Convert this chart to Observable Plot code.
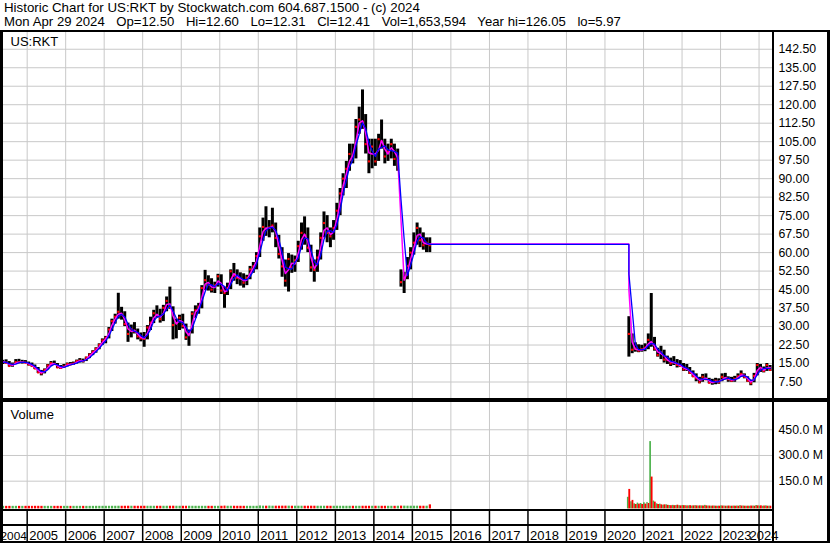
<!DOCTYPE html>
<html><head><meta charset="utf-8">
<script src="https://cdn.jsdelivr.net/npm/d3@7"></script>
<script src="https://cdn.jsdelivr.net/npm/@observablehq/plot@0.6"></script>
<style>
html,body{margin:0;padding:0;background:#fff;}
#wrap{position:relative;width:830px;height:543px;overflow:hidden;background:#fff;font-family:"Liberation Sans",Arial,sans-serif;color:#000;}
.hdr{position:absolute;left:4px;font-size:13.3px;white-space:pre;line-height:14px;}
.abs{position:absolute;}
.blk{position:absolute;background:#000;}
</style></head><body>
<div id="wrap">
  <div class="hdr" style="top:1px">Historic Chart for US:RKT by Stockwatch.com 604.687.1500 - (c) 2024</div>
  <div class="hdr" style="top:15px;font-size:13.15px;word-spacing:0.2px">Mon Apr 29 2024   Op=12.50   Hi=12.60   Lo=12.31   Cl=12.41   Vol=1,653,594   Year hi=126.05   lo=5.97</div>
  <div id="price" class="abs" style="left:0;top:31px"></div>
  <div id="volume" class="abs" style="left:0;top:402px"></div>
  <div class="abs" style="left:0;top:30px;width:830px;height:513px;box-sizing:border-box;border:2px solid #000;border-left-width:3px;border-right-width:3px;"></div>
  <div class="blk" style="left:772px;top:30px;width:2px;height:513px"></div>
  <div class="blk" style="left:0;top:398px;width:830px;height:4px"></div>
  <div class="blk" style="left:0;top:509px;width:774px;height:2px"></div>
  <div class="blk" style="left:0;top:524px;width:774px;height:2px"></div>
  <div id="dates" class="abs" style="left:0;top:510px"></div>
</div>
<script>
// ---------- DATA ----------
// Era 1: monthly bars, May 2004 .. Jun 2015 (US:RKT = RockTenn)
const era1Start = [2004, 4];
const era1High = [
  16.3,16.5,15.8,15.2,16.6,16.7,16.3,16.2,
  15.6,15.2,14.4,13.4,12.2,12.8,14.6,15.8,16.0,15.0,14.2,14.6,
  15.2,15.4,15.6,16.4,17.0,16.8,17.6,19.0,20.2,21.4,23.0,25.0,
  26.0,29.6,33.0,35.0,43.5,37.8,36.0,31.4,30.6,31.6,29.0,27.4,
  27.6,30.4,33.8,36.6,38.4,37.0,38.6,42.0,46.0,38.0,33.0,34.6,
  35.0,31.0,28.6,36.0,38.4,39.4,46.6,52.8,50.6,49.4,48.0,51.2,
  51.0,46.0,47.6,53.0,55.6,53.0,51.8,51.4,50.8,54.4,56.0,60.0,
  70.0,74.0,78.6,73.0,78.0,72.0,67.0,62.0,57.0,59.6,59.0,58.6,
  64.6,72.0,74.5,70.0,63.0,57.0,61.0,68.0,76.5,75.0,70.0,73.0,
  80.0,86.0,92.0,97.0,104.0,104.0,114.0,119.0,126.0,116.0,106.0,106.0,
  106.0,108.0,113.8,106.0,104.0,106.0,104.0,102.0,53.0,52.0,58.0,62.0,
  68.0,72.0,70.0,68.0,66.0,66.0
];
const era1Low = [
  14.6,14.8,13.6,13.5,14.8,15.0,14.8,15.0,
  14.0,13.6,12.6,11.0,10.0,10.8,12.4,13.8,14.2,13.0,12.6,13.0,
  13.6,14.2,14.2,14.8,15.2,15.2,15.8,17.0,18.2,19.2,20.6,22.4,
  23.0,25.0,28.0,31.0,33.0,32.6,30.0,23.6,25.4,27.0,24.6,23.8,
  21.6,24.6,28.4,31.2,33.4,31.4,32.0,36.0,37.0,24.6,25.0,28.4,
  29.0,24.4,22.0,27.0,33.4,35.0,37.2,44.6,44.4,43.6,43.4,46.0,
  43.0,37.4,42.6,45.0,48.4,47.0,46.4,45.6,46.6,49.0,51.6,53.0,
  58.0,64.6,66.6,66.0,68.0,62.0,57.4,50.0,46.0,44.0,51.6,52.0,
  56.0,61.0,63.0,60.0,52.0,48.0,52.0,57.0,66.0,64.0,62.0,65.0,
  69.0,75.0,83.0,86.0,93.0,96.0,98.0,108.0,110.0,100.0,92.0,94.0,
  95.0,97.0,102.0,96.0,97.0,98.0,95.0,93.0,46.0,43.4,49.0,53.0,
  59.0,63.0,62.0,61.0,60.0,60.0
];
const era1Close = [
  15.6,15.3,14.0,14.6,15.6,15.5,15.6,15.3,
  14.6,14.0,13.0,11.4,11.0,12.4,14.2,15.2,14.8,13.4,13.2,13.8,
  14.8,14.6,15.0,16.0,16.2,16.0,17.4,18.6,19.8,21.0,22.6,24.4,
  25.4,28.8,32.2,34.0,36.0,34.8,31.0,27.0,29.0,28.0,26.0,25.2,
  25.0,29.6,31.6,35.4,34.6,33.0,37.6,40.4,38.0,30.6,31.4,33.6,
  30.2,25.6,27.0,35.2,36.6,38.0,45.6,48.8,47.0,45.0,46.6,50.4,
  44.6,43.6,45.6,52.4,50.6,49.8,49.4,47.8,49.8,53.2,54.4,58.6,
  66.6,70.4,69.6,70.2,71.0,66.0,59.4,54.4,48.6,57.4,54.0,56.8,
  62.6,68.0,67.0,62.0,54.0,53.0,58.0,66.0,72.0,68.0,66.6,70.0,
  77.0,84.0,90.0,94.0,100.0,99.0,111.0,114.0,113.0,104.0,97.0,103.0,
  97.0,106.0,105.0,99.0,101.0,104.0,98.0,99.0,48.0,49.6,54.6,60.0,
  64.0,70.0,65.0,63.0,64.0,63.0
];
// volume, millions of shares
const era1Vol = [
  0.4,0.3,0.3,0.3,0.4,0.3,0.3,0.4,
  0.4,0.4,0.5,0.5,0.4,0.4,0.3,0.3,0.4,0.4,0.3,0.3,
  0.3,0.3,0.4,0.4,0.4,0.4,0.3,0.3,0.4,0.5,0.5,0.5,
  0.6,0.6,0.7,0.8,0.9,0.8,0.8,1.0,0.9,0.8,0.7,0.7,
  0.9,0.8,0.8,0.7,0.7,0.8,0.8,0.8,1.0,1.2,0.9,0.8,
  0.8,0.8,0.9,0.8,0.7,0.6,0.6,0.6,0.6,0.6,0.5,0.5,
  0.7,1.8,0.8,0.8,0.8,0.7,0.7,0.6,0.6,0.6,0.6,0.6,
  2.6,1.4,1.2,1.8,1.2,1.2,1.2,1.4,1.5,1.4,1.1,1.0,
  1.1,1.1,1.0,1.0,1.2,1.2,1.0,0.9,0.9,0.9,0.8,0.8,
  0.9,0.8,0.8,0.8,0.8,0.9,0.8,0.8,0.9,0.9,0.8,0.8,
  0.9,0.8,0.8,0.8,0.7,0.7,0.7,1.0,1.6,1.5,1.2,1.1,
  1.1,1.2,1.0,1.0,1.1,9.0
];

// Era 2: monthly bars, Aug 2020 .. Apr 2024 (US:RKT = Rocket Companies)
const era2Start = [2020, 7];
const era2High = [
  34.0,27.0,23.4,22.6,22.4,
  23.0,27.0,43.4,25.6,21.2,22.0,20.4,18.0,17.2,17.8,16.6,16.2,
  15.0,14.6,13.4,12.0,10.8,9.4,10.6,10.8,9.0,8.6,9.0,8.8,
  10.8,11.0,9.6,9.4,9.8,10.8,12.0,10.8,9.6,8.2,11.0,15.0,
  14.6,13.6,15.0,14.2
];
const era2Low = [
  17.6,19.0,19.6,19.4,19.6,
  19.8,20.6,21.6,20.0,17.6,16.6,15.2,14.6,13.8,14.2,13.2,13.4,
  11.8,11.8,10.6,9.4,7.6,6.8,7.4,8.2,6.8,6.2,6.4,6.6,
  7.6,8.6,7.4,7.4,7.4,8.6,9.4,8.8,7.4,6.0,7.2,10.0,
  11.4,11.2,11.8,11.8
];
const era2Close = [
  27.0,20.6,21.0,20.2,20.8,
  21.4,24.6,23.2,21.0,18.4,19.6,16.6,16.4,15.0,15.6,14.4,14.0,
  12.6,12.8,11.2,9.8,9.0,7.4,9.6,8.6,7.2,7.4,8.0,7.4,
  9.6,9.0,8.6,8.0,8.8,9.8,10.8,9.6,8.0,7.0,10.0,14.4,
  12.6,12.0,14.4,12.4
];
const era2UpVol = [
  56,30,18,22,20,
  24,26,381,34,18,16,10,12,8,9,8,7,
  8,7,6,5,7,5,6,9,5,4,5,4,
  6,5,4,4,5,5,7,5,4,4,5,8,
  5,4,6,4
];
const era2DownVol = [
  102,38,14,16,14,
  16,20,174,28,14,12,12,9,7,7,10,6,
  7,6,7,6,6,6,5,6,5,5,4,4,
  5,4,5,4,4,4,5,4,4,5,4,6,
  6,5,4,4
];

const priceTicks = [7.5,15,22.5,30,37.5,45,52.5,60,67.5,75,82.5,90,97.5,105,112.5,120,127.5,135,142.5];
const volumeTicks = [150,300,450];
const yearLabels = ["2004","2005","2006","2007","2008","2009","2010","2011","2012","2013","2014",
                    "2015","2016","2017","2018","2019","2020","2021","2022","2023","2024"];

// ---------- BUILD ----------
const monthDates = (start, n) => d3.range(n).map(i => new Date(Date.UTC(start[0], start[1] + i, 15)));
const era1Dates = monthDates(era1Start, era1Close.length);
const era2Dates = monthDates(era2Start, era2Close.length);

const bars = [
  ...era1Dates.map((date, i) => ({date, high: era1High[i], low: era1Low[i], close: era1Close[i]})),
  ...era2Dates.map((date, i) => ({date, high: era2High[i], low: era2Low[i], close: era2Close[i]}))
];
const closes = bars.map(d => d.close);
const trailing = k => closes.map((_, i) => d3.mean(closes.slice(Math.max(0, i - k + 1), i + 1)));
const fastMA = trailing(2), slowMA = trailing(3);
const maRows = bars.map((d, i) => ({date: d.date, fast: fastMA[i], slow: slowMA[i]}));
// carry the last averages across the 2015-2020 gap in the data
const n1 = era1Close.length;
maRows.splice(n1, 0, {date: era2Dates[0], fast: fastMA[n1 - 1], slow: slowMA[n1 - 1]});

const vol1 = era1Dates.map((date, i) => ({date, vol: era1Vol[i], up: i === 0 || era1Close[i] >= era1Close[i - 1]}));
const vol2 = era2Dates.map((date, i) => ({date, upVol: era2UpVol[i], downVol: era2DownVol[i]}));

const yearStarts = yearLabels.slice(1).map(y => new Date(Date.UTC(+y, 0, 1)));
const labelRows = yearLabels.map((label, i) => ({label, date: i === 0 ? yearStarts[0] : yearStarts[i - 1]}));

const xDomain = [new Date(Date.UTC(2004, 4, 12)), new Date(Date.UTC(2024, 4, 17))];
const GRID = "#c8c8c8", GREEN = "#4cb24c", RED = "#ff0000";
const baseStyle = {fontFamily: '"Liberation Sans", Arial, sans-serif', fontSize: "12.3px", color: "#000", background: "transparent", overflow: "visible"};
const common = {width: 830, marginLeft: 2, marginRight: 57, style: baseStyle};

const pricePlot = Plot.plot({
  ...common, height: 369, marginTop: 0, marginBottom: 0,
  x: {type: "utc", domain: xDomain, axis: null},
  y: {domain: [0, 149.7], axis: null},
  marks: [
    Plot.ruleX(yearStarts, {stroke: GRID, strokeWidth: 1}),
    Plot.ruleY(priceTicks, {stroke: GRID, strokeWidth: 1}),
    Plot.axisY(priceTicks, {anchor: "right", tickSize: 0, tickPadding: 5, tickFormat: d => d.toFixed(2), fontSize: 12.3, fill: "#000"}),
    Plot.ruleX(bars, {x: "date", y1: "low", y2: "high", stroke: "#000", strokeWidth: 3}),
    Plot.dot(bars, {x: "date", y: "close", symbol: "square", r: 1.2, fill: RED, stroke: null}),
    Plot.line(maRows, {x: "date", y: "fast", stroke: "#ff00ff", strokeWidth: 1.5}),
    Plot.line(maRows, {x: "date", y: "slow", stroke: "#0000ff", strokeWidth: 1.3}),
    Plot.text(["US:RKT"], {frameAnchor: "top-left", dx: 8, dy: 5, lineAnchor: "top", textAnchor: "start", fontSize: 13, fill: "#000"})
  ]
});
document.getElementById("price").append(pricePlot);

const volumePlot = Plot.plot({
  ...common, height: 108, marginTop: 0, marginBottom: 3.6,
  x: {type: "utc", domain: xDomain, axis: null},
  y: {domain: [0, 609], axis: null},
  marks: [
    Plot.ruleX(yearStarts, {stroke: GRID, strokeWidth: 1, insetBottom: -4}),
    Plot.ruleY(volumeTicks, {stroke: GRID, strokeWidth: 1}),
    Plot.axisY(volumeTicks, {anchor: "right", tickSize: 0, tickPadding: 5, tickFormat: d => d.toFixed(1) + " M", fontSize: 12.3, fill: "#000"}),
    Plot.rectY(vol1, {x: "date", interval: d3.utcMonth, y: "vol", fill: d => d.up ? GREEN : RED, insetBottom: -2, insetTop: -0.5}),
    Plot.rectY(vol2, {x: "date", interval: d3.utcMonth, y: "upVol", fill: GREEN, insetBottom: -2, insetRight: 1.6}),
    Plot.rectY(vol2, {x: "date", interval: d3.utcMonth, y: "downVol", fill: RED, insetBottom: -2, insetLeft: 1.4}),
    Plot.text(["Volume"], {frameAnchor: "top-left", dx: 8, dy: 7, lineAnchor: "top", textAnchor: "start", fontSize: 13, fill: "#000"})
  ]
});
document.getElementById("volume").append(volumePlot);

const datePlot = Plot.plot({
  ...common, height: 32, marginTop: 0, marginBottom: 0,
  x: {type: "utc", domain: xDomain, axis: null},
  marks: [
    Plot.ruleX(yearStarts, {stroke: "#000", strokeWidth: 1.5}),
    Plot.text(labelRows.slice(0, 1), {x: "date", text: "label", frameAnchor: "bottom", lineAnchor: "bottom", dy: -3, dx: -0.4, textAnchor: "end", fontSize: 11.8, fill: "#000"}),
    Plot.text(labelRows.slice(1, -1), {x: "date", text: "label", frameAnchor: "bottom", lineAnchor: "bottom", dy: -3, dx: 2, textAnchor: "start", fontSize: 13, fill: "#000"}),
    Plot.text(labelRows.slice(-1), {text: "label", frameAnchor: "bottom-right", lineAnchor: "bottom", dy: -3, dx: 5, textAnchor: "end", fontSize: 13, fill: "#000"})
  ]
});
document.getElementById("dates").append(datePlot);
</script>
</body></html>
